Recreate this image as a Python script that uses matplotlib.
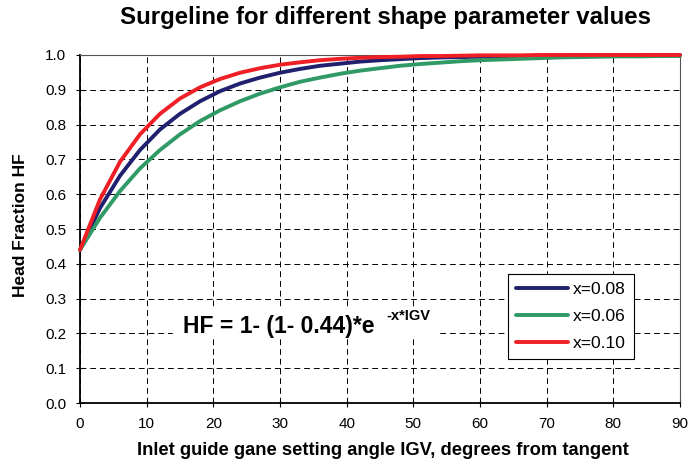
import numpy as np
import matplotlib.pyplot as plt

plt.rcParams['font.family'] = ['Liberation Sans', 'DejaVu Sans']

# IGV angle, degrees from tangent
igv = [0, 3, 6, 9, 12, 15, 18, 21, 24, 27, 30, 33, 36, 39, 42, 45,
       48, 51, 54, 57, 60, 63, 66, 69, 72, 75, 78, 81, 84, 87, 90]

hf_008 = [0.440, 0.560, 0.653, 0.727, 0.786, 0.831, 0.867, 0.896, 0.918,
          0.935, 0.949, 0.960, 0.969, 0.975, 0.981, 0.985, 0.988, 0.991,
          0.993, 0.994, 0.995, 0.996, 0.997, 0.998, 0.998, 0.999, 0.999,
          0.999, 0.999, 1.000, 1.000]
hf_006 = [0.440, 0.532, 0.609, 0.674, 0.727, 0.772, 0.810, 0.841, 0.867,
          0.889, 0.907, 0.923, 0.935, 0.946, 0.955, 0.962, 0.969, 0.974,
          0.978, 0.982, 0.985, 0.987, 0.989, 0.991, 0.993, 0.994, 0.995,
          0.996, 0.996, 0.997, 0.997]
hf_010 = [0.440, 0.585, 0.693, 0.772, 0.831, 0.875, 0.907, 0.931, 0.949,
          0.962, 0.972, 0.979, 0.985, 0.989, 0.992, 0.994, 0.995, 0.997,
          0.997, 0.998, 0.999, 0.999, 0.999, 1.000, 1.000, 1.000, 1.000,
          1.000, 1.000, 1.000, 1.000]

labels = ['x=0.08', 'x=0.06', 'x=0.10']
colors = ['#20206e', '#2f9a66', '#ee1f25']

fig = plt.figure(figsize=(6.89, 4.61), dpi=100)
ax = fig.add_axes([0.1161, 0.1258, 0.8708, 0.7549])

for y, lab, c in zip([hf_008, hf_006, hf_010], labels, colors):
    ax.plot(igv, y, color=c, lw=2.8, label=lab, solid_capstyle='round',
            zorder=3, clip_on=False)

ax.set_xlim(0, 90)
ax.set_ylim(0, 1.0)
ax.set_xticks(np.arange(0, 91, 10))
ax.set_yticks(np.arange(0, 1.01, 0.1))
ax.set_yticklabels(['%.1f' % v for v in np.arange(0, 1.01, 0.1)])
ax.tick_params(labelsize=11, direction='inout', length=6, width=0.8, pad=7)
ax.grid(True, color='black', linestyle=(0, (6, 4)), lw=0.7)

for s in ['left', 'bottom']:
    ax.spines[s].set_linewidth(1.3)
for s in ['top', 'right']:
    ax.spines[s].set_linewidth(0.8)
    ax.spines[s].set_color('#555555')

fig.text(0.559, 0.961, 'Surgeline for different shape parameter values',
         fontsize=17.3, fontweight='bold', ha='center', va='center')
fig.text(0.556, 0.022, 'Inlet guide gane setting angle IGV, degrees from tangent',
         fontsize=13.2, fontweight='bold', ha='center', va='center')
fig.text(0.030, 0.512, 'Head Fraction HF', fontsize=12.5, fontweight='bold',
         ha='center', va='center', rotation=90)

# white patch behind the formula, as in the original
ax.fill_between([14.0, 53.5], 0.19, 0.275, color='white', zorder=2.5)
ax.text(15.45, 0.201, 'HF = 1- (1- 0.44)*e', fontsize=16.5, fontweight='bold',
        ha='left', va='baseline', zorder=4)
ax.text(46.0, 0.238, '-x*IGV', fontsize=10.5, fontweight='bold',
        ha='left', va='baseline', zorder=4)

leg = ax.legend(loc='lower left', bbox_to_anchor=(0.713, 0.126), fontsize=12.5,
                fancybox=False, framealpha=1, edgecolor='black',
                handlelength=3.0, handletextpad=0.3, borderpad=0.45,
                borderaxespad=0, labelspacing=0.68)
leg.get_frame().set_linewidth(0.8)

fig.savefig('out.png', dpi=100)
